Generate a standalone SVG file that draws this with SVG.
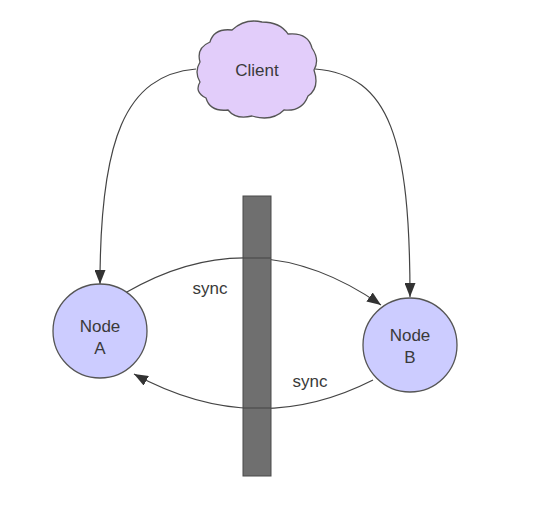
<svg xmlns="http://www.w3.org/2000/svg" width="547" height="505" viewBox="0 0 547 505">
  <defs>
    <marker id="arrow" viewBox="0 0 14 11" refX="14" refY="5.5" markerWidth="14" markerHeight="11" markerUnits="userSpaceOnUse" orient="auto">
      <path d="M0,0 L14,5.5 L0,11 Z" fill="#333333"/>
    </marker>
    <style>
      .edge { fill: none; stroke: #444444; stroke-width: 1.2; marker-end: url(#arrow); }
      .label { font-family: "Liberation Sans", Arial, sans-serif; font-size: 17px; fill: #3a3a3a; text-anchor: middle; }
      .node { fill: #ccccff; stroke: #555555; stroke-width: 1.3; }
      .cloud { fill: #e2cdfa; stroke: #555555; stroke-width: 1.3; }
      .wall { fill: #6f6f6f; stroke: #4a4a4a; stroke-width: 1; }
    </style>
  </defs>
  <rect width="547" height="505" fill="#ffffff"/>

  <!-- connectors -->
  <g id="connectors">
    <path class="edge" d="M196,69 C125,75 100,140 100,284"/>
    <path class="edge" d="M315,69 C390,75 410,140 410,297"/>
    <path class="edge" d="M125,293 Q255,217 381,305"/>
    <path class="edge" d="M373,380 Q255,440 134,374"/>
  </g>

  <!-- partition wall between the two nodes -->
  <g id="wall">
    <rect class="wall" x="243" y="196" width="28" height="280"/>
    <path d="M243,258 L271,258 M243,408 L271,408" stroke="#444444" stroke-width="1.2" fill="none"/>
  </g>

  <g id="sync-labels">
    <text class="label" x="210" y="294">sync</text>
    <text class="label" x="310" y="387">sync</text>
  </g>

  <g id="client">
    <path class="cloud" d="M200,62 Q196,48 210,42 Q214,28 232,30 Q245,18 262,22 Q280,22 288,34 Q308,32 312,48 Q320,60 314,70 Q320,88 308,96 Q302,112 284,110 Q272,122 252,116 Q236,120 228,110 Q210,112 206,98 Q194,92 200,82 Q194,72 200,62 Z"/>
    <text class="label" x="257" y="76">Client</text>
  </g>

  <g id="node-a">
    <circle class="node" cx="100" cy="331" r="47"/>
    <text class="label" x="100" y="332">Node</text>
    <text class="label" x="100" y="354">A</text>
  </g>

  <g id="node-b">
    <circle class="node" cx="410" cy="345" r="47"/>
    <text class="label" x="410" y="341">Node</text>
    <text class="label" x="410" y="363">B</text>
  </g>
</svg>
